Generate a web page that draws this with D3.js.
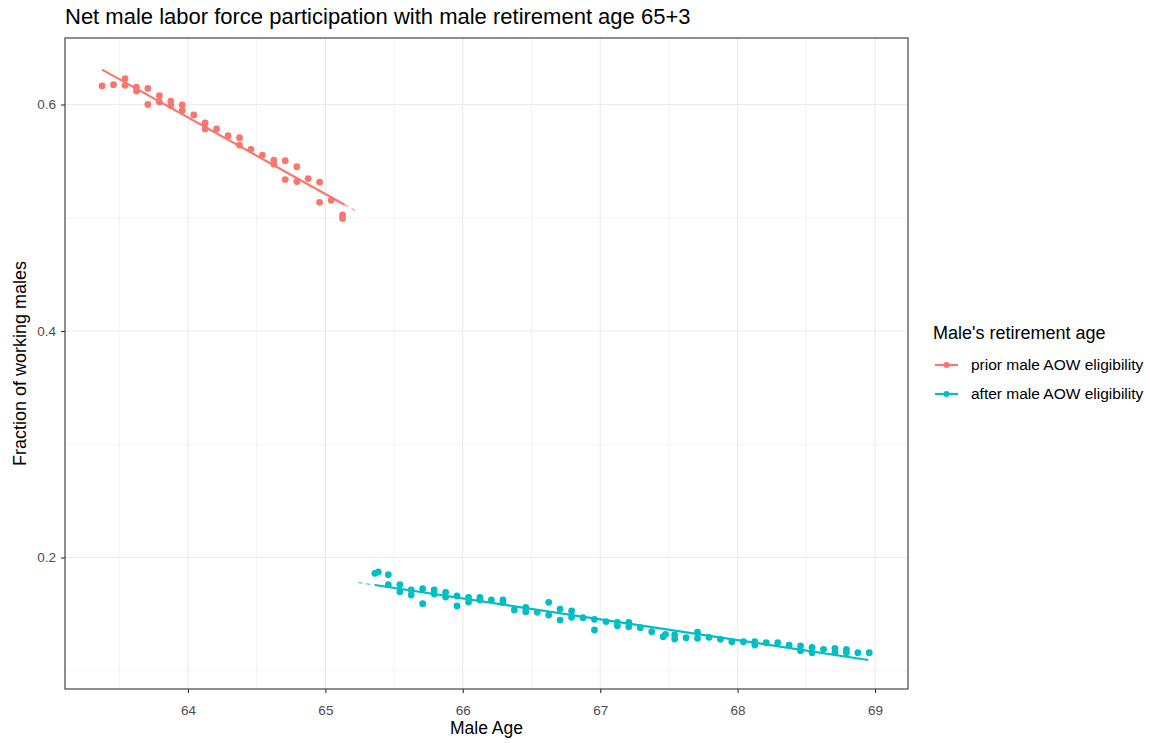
<!DOCTYPE html>
<html>
<head>
<meta charset="utf-8">
<script src="https://cdn.jsdelivr.net/npm/d3@7"></script>
<style>
  body { margin: 0; background: #fff; }
  text { font-family: "Liberation Sans", Arial, sans-serif; }
</style>
</head>
<body>
<div id="chart"></div>
<script>
// point data (age in years, fraction working)
const priorAge = [63.375, 63.458, 63.542, 63.542, 63.625, 63.625, 63.708, 63.708, 63.792, 63.792,
  63.875, 63.875, 63.958, 63.958, 64.042, 64.125, 64.125, 64.208, 64.292, 64.375, 64.375, 64.458,
  64.542, 64.625, 64.625, 64.708, 64.708, 64.792, 64.792, 64.875, 64.958, 64.958, 65.042, 65.125, 65.125];
const priorVal = [0.6163, 0.6175, 0.6228, 0.6169, 0.6154, 0.6118, 0.6142, 0.600, 0.6077, 0.6021,
  0.603, 0.599, 0.5997, 0.5947, 0.5908, 0.5837, 0.5784, 0.5784, 0.5725, 0.5707, 0.5642, 0.5604,
  0.5553, 0.5509, 0.5473, 0.5503, 0.5337, 0.545, 0.532, 0.5346, 0.5314, 0.5136, 0.5154, 0.5024, 0.4994];

const afterAge = [65.36, 65.385, 65.458, 65.458, 65.542, 65.542, 65.625, 65.625, 65.708, 65.708,
  65.792, 65.792, 65.875, 65.875, 65.958, 65.958, 66.042, 66.042, 66.125, 66.125, 66.208, 66.292,
  66.292, 66.375, 66.458, 66.458, 66.542, 66.625, 66.625, 66.708, 66.708, 66.792, 66.792, 66.875,
  66.958, 66.958, 67.042, 67.125, 67.125, 67.208, 67.208, 67.292, 67.375, 67.458, 67.475, 67.542,
  67.542, 67.625, 67.708, 67.708, 67.792, 67.875, 67.958, 68.042, 68.125, 68.125, 68.208, 68.292,
  68.375, 68.458, 68.458, 68.542, 68.542, 68.625, 68.708, 68.708, 68.792, 68.792, 68.875, 68.958];
const afterVal = [0.186, 0.1872, 0.1848, 0.176, 0.176, 0.1698, 0.1713, 0.1669, 0.1725, 0.1592,
  0.1713, 0.1678, 0.1693, 0.1651, 0.166, 0.1572, 0.1648, 0.1607, 0.1648, 0.1625, 0.1625, 0.1625,
  0.1601, 0.1536, 0.156, 0.1522, 0.1516, 0.1604, 0.1492, 0.1545, 0.1448, 0.1528, 0.1472, 0.1469,
  0.1454, 0.136, 0.1434, 0.1428, 0.1398, 0.1428, 0.1389, 0.138, 0.1345, 0.1301, 0.1322, 0.1316,
  0.128, 0.1292, 0.134, 0.1287, 0.1295, 0.1278, 0.1257, 0.1257, 0.1257, 0.1227, 0.1248, 0.1248,
  0.1227, 0.1219, 0.1177, 0.1207, 0.1159, 0.1189, 0.1198, 0.1159, 0.1189, 0.1159, 0.1159, 0.1159];

// fitted lines: solid part, then the faint tail towards the cut-off
const priorFitAge = [63.375, 65.14, 65.23];
const priorFitVal = [0.6308, 0.5115, 0.5055];
const afterFitAge = [65.24, 65.36, 68.95];
const afterFitVal = [0.1779, 0.1757, 0.1095];

const xTicks = [64, 65, 66, 67, 68, 69];
const yTicks = [0.2, 0.4, 0.6];
const xMinor = [63.5, 64.5, 65.5, 66.5, 67.5, 68.5];
const yMinor = [0.1, 0.3, 0.5];

const groups = ['prior male AOW eligibility', 'after male AOW eligibility'];
const colors = ['#F8766D', '#00BFC4'];

const width = 1150, height = 743;
const margin = {top: 38, right: 242, bottom: 54, left: 65};
const pw = width - margin.left - margin.right;
const ph = height - margin.top - margin.bottom;

const svg = d3.select('#chart').append('svg')
  .attr('width', width)
  .attr('height', height);

const x = d3.scaleLinear().domain([63.105, 69.24]).range([0, pw]);
const y = d3.scaleLinear().domain([0.0839, 0.6587]).range([ph, 0]);

const g = svg.append('g').attr('transform', `translate(${margin.left},${margin.top})`);

// grid
g.append('g').selectAll('line').data(xMinor).enter().append('line')
  .attr('x1', d => x(d)).attr('x2', d => x(d)).attr('y1', 0).attr('y2', ph)
  .attr('stroke', '#EBEBEB').attr('stroke-width', 0.6);
g.append('g').selectAll('line').data(yMinor).enter().append('line')
  .attr('y1', d => y(d)).attr('y2', d => y(d)).attr('x1', 0).attr('x2', pw)
  .attr('stroke', '#EBEBEB').attr('stroke-width', 0.6);
g.append('g').selectAll('line').data(xTicks).enter().append('line')
  .attr('x1', d => x(d)).attr('x2', d => x(d)).attr('y1', 0).attr('y2', ph)
  .attr('stroke', '#EBEBEB').attr('stroke-width', 1.1);
g.append('g').selectAll('line').data(yTicks).enter().append('line')
  .attr('y1', d => y(d)).attr('y2', d => y(d)).attr('x1', 0).attr('x2', pw)
  .attr('stroke', '#EBEBEB').attr('stroke-width', 1.1);

// fit lines
function drawFit(ages, vals, color, tailFirst) {
  const pts = ages.map((a, i) => [x(a), y(vals[i])]);
  const line = d3.line();
  const solid = tailFirst ? pts.slice(1) : pts.slice(0, 2);
  const tail = tailFirst ? pts.slice(0, 2) : pts.slice(1);
  g.append('path').attr('d', line(solid))
    .attr('stroke', color).attr('stroke-width', 2.2).attr('fill', 'none');
  g.append('path').attr('d', line(tail))
    .attr('stroke', color).attr('stroke-width', 1.4).attr('fill', 'none')
    .attr('stroke-dasharray', '4,4').attr('opacity', 0.7);
}
drawFit(priorFitAge, priorFitVal, colors[0], false);
drawFit(afterFitAge, afterFitVal, colors[1], true);

// points
g.append('g').selectAll('circle').data(priorAge).enter().append('circle')
  .attr('cx', d => x(d)).attr('cy', (d, i) => y(priorVal[i])).attr('r', 3.4)
  .attr('fill', colors[0]);
g.append('g').selectAll('circle').data(afterAge).enter().append('circle')
  .attr('cx', d => x(d)).attr('cy', (d, i) => y(afterVal[i])).attr('r', 3.4)
  .attr('fill', colors[1]);

// border
g.append('rect').attr('width', pw).attr('height', ph)
  .attr('fill', 'none').attr('stroke', '#333333').attr('stroke-width', 1.1);

// axes
const xAxis = g.append('g').attr('transform', `translate(0,${ph})`)
  .call(d3.axisBottom(x).tickValues(xTicks).tickFormat(d3.format('d')).tickSize(4).tickPadding(12));
const yAxis = g.append('g')
  .call(d3.axisLeft(y).tickValues(yTicks).tickFormat(d3.format('.1f')).tickSize(4).tickPadding(5));
[xAxis, yAxis].forEach(a => {
  a.select('.domain').remove();
  a.selectAll('.tick line').attr('stroke', '#333333').attr('stroke-width', 1.1);
  a.selectAll('.tick text').attr('fill', '#4D4D4D').style('font-size', '13.5px')
    .style('font-family', '"Liberation Sans", Arial, sans-serif');
});

// titles
svg.append('text').attr('x', margin.left).attr('y', 24)
  .style('font-size', '22px').attr('fill', '#000')
  .text('Net male labor force participation with male retirement age 65+3');
svg.append('text').attr('x', margin.left + pw / 2).attr('y', 734)
  .attr('text-anchor', 'middle').style('font-size', '17.5px')
  .text('Male Age');
svg.append('text')
  .attr('transform', `translate(26,${margin.top + ph / 2}) rotate(-90)`)
  .attr('text-anchor', 'middle').style('font-size', '18px')
  .text('Fraction of working males');

// legend
const lg = svg.append('g').attr('transform', 'translate(933,0)');
lg.append('text').attr('x', 0).attr('y', 339).style('font-size', '18px')
  .text("Male's retirement age");
groups.forEach((name, i) => {
  const cy = 365 + i * 29;
  lg.append('line').attr('x1', 2).attr('x2', 25).attr('y1', cy).attr('y2', cy)
    .attr('stroke', colors[i]).attr('stroke-width', 2.2);
  lg.append('circle').attr('cx', 13.5).attr('cy', cy).attr('r', 3).attr('fill', colors[i]);
  lg.append('text').attr('x', 38).attr('y', cy + 5).style('font-size', '15.5px')
    .text(name);
});
</script>
</body>
</html>
